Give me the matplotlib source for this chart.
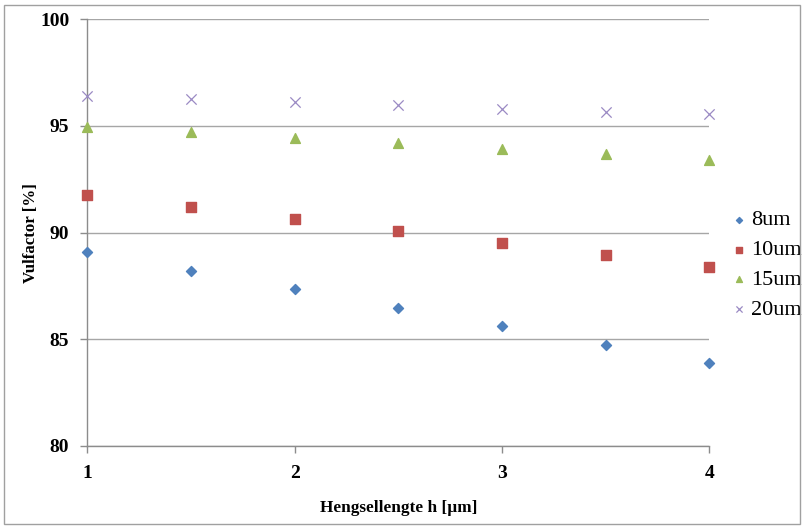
import matplotlib
matplotlib.use("Agg")
import matplotlib.pyplot as plt
from matplotlib.patches import Rectangle

h = [1, 1.5, 2, 2.5, 3, 3.5, 4]
v_8um = [89.08, 88.22, 87.34, 86.48, 85.61, 84.73, 83.87]
v_10um = [91.78, 91.20, 90.66, 90.09, 89.52, 88.95, 88.39]
v_15um = [94.94, 94.70, 94.45, 94.20, 93.94, 93.69, 93.42]
v_20um = [96.41, 96.27, 96.13, 95.96, 95.81, 95.67, 95.55]
labels = ["8um", "10um", "15um", "20um"]

plt.rcParams['font.family'] = ['Liberation Serif', 'DejaVu Serif']

fig = plt.figure(figsize=(8.03, 5.31), dpi=100)
ax = fig.add_axes([87.3 / 803, 1 - 446 / 531, (709.3 - 87.3) / 803, (446 - 19.3) / 531])

# rand om het hele diagram
fig.patches.append(Rectangle((4 / 803, 1 - 524 / 531), 796 / 803, 519 / 531,
                             transform=fig.transFigure, fill=False,
                             edgecolor='#a0a0a0', linewidth=1))

ax.scatter(h, v_8um, marker='D', s=26, color='#4F81BD', label=labels[0], zorder=3, clip_on=False)
ax.scatter(h, v_10um, marker='s', s=55, color='#C0504D', label=labels[1], zorder=3, clip_on=False)
ax.scatter(h, v_15um, marker='^', s=50, color='#9BBB59', label=labels[2], zorder=3, clip_on=False)
ax.scatter(h, v_20um, marker='x', s=55, color='#9A8AC4', linewidths=0.9, label=labels[3],
           zorder=3, clip_on=False)

ax.set_xlim(1, 4)
ax.set_ylim(80, 100)
ax.set_xticks([1, 2, 3, 4])
ax.set_yticks([80, 85, 90, 95, 100])
ax.yaxis.grid(True, color='#a6a6a6', linewidth=1)
ax.set_axisbelow(True)

for s in ['top', 'right']:
    ax.spines[s].set_visible(False)
for s in ['left', 'bottom']:
    ax.spines[s].set_color('#8c8c8c')
    ax.spines[s].set_linewidth(1)

ax.tick_params(axis='both', colors='#8c8c8c', length=5, width=1, direction='out',
               labelcolor='black', labelsize=14)
ax.tick_params(axis='x', pad=9)
ax.tick_params(axis='y', pad=8)
for t in ax.get_xticklabels() + ax.get_yticklabels():
    t.set_fontweight('bold')

ax.set_xlabel("Hengsellengte h [µm]", fontsize=12.4, fontweight='bold', labelpad=13)
ax.set_ylabel("Vulfactor [%]", fontsize=12.2, fontweight='bold', labelpad=1)

ax.legend(loc='center left', bbox_to_anchor=(722 / 803, 1 - 265 / 531),
          bbox_transform=fig.transFigure, frameon=False, fontsize=16,
          handlelength=0.55, handletextpad=0.25, labelspacing=0.42,
          borderpad=0, markerscale=0.6)

fig.savefig("out.png", dpi=100)
